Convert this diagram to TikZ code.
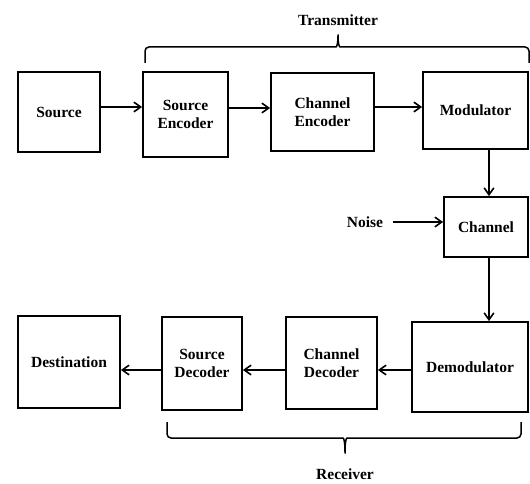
\documentclass[tikz,border=0pt]{standalone}
\usepackage{fontspec}
\setmainfont{Liberation Serif}
\usetikzlibrary{arrows.meta,positioning,calc}
\tikzset{
  block/.style={draw,line width=1.8pt,align=center,inner sep=2pt,
    font=\bfseries\fontsize{15.5}{17.5}\selectfont},
  arrow/.style={-{Straight Barb[length=2.4mm,width=3.4mm]},line width=1.6pt},
  bracket/.style={line width=1.5pt,rounded corners=4pt},
  labelstyle/.style={font=\bfseries\fontsize{15.5}{17.5}\selectfont,inner sep=1pt}
}
\begin{document}
\begin{tikzpicture}[x=1pt,y=-1pt]
  \useasboundingbox (0,0) rectangle (530,484);
  % transmitter chain
  \node[block,minimum width=82,minimum height=80] (src) at (59,112) {Source};
  \node[block,minimum width=85,minimum height=85] (senc) at (185.5,114.5) {Source\\Encoder};
  \node[block,minimum width=103,minimum height=78] (cenc) at (322.5,112) {Channel\\Encoder};
  \node[block,minimum width=105,minimum height=77] (mod) at (475.5,110.5) {Modulator};
  \node[block,minimum width=84,minimum height=60] (chan) at (486,227) {Channel};
  \node[labelstyle] (noise) at (365,222) {Noise};
  % receiver chain
  \node[block,minimum width=116,minimum height=90] (demod) at (470,367) {Demodulator};
  \node[block,minimum width=91,minimum height=92] (cdec) at (331.5,363) {Channel\\Decoder};
  \node[block,minimum width=80,minimum height=93] (sdec) at (202,363.5) {Source\\Decoder};
  \node[block,minimum width=102,minimum height=92] (dst) at (69,362) {Destination};
  % connectors
  \draw[arrow] ([yshift=5pt]src.east) -- ([yshift=5pt]src.east -| senc.west);
  \draw[arrow] ([yshift=6.5pt]senc.east) -- ([yshift=6.5pt]senc.east -| cenc.west);
  \draw[arrow] ([yshift=5pt]cenc.east) -- ([yshift=5pt]cenc.east -| mod.west);
  \draw[arrow] ([xshift=3pt]mod.south -| chan.north) -- ([xshift=3pt]chan.north);
  \draw[arrow] ([xshift=9pt]noise.east) -- (noise.east -| chan.west);
  \draw[arrow] ([xshift=3pt]chan.south) -- ([xshift=3pt]chan.south |- demod.north);
  \draw[arrow] ([yshift=-3pt]demod.west) -- ([yshift=-3pt]demod.west -| cdec.east);
  \draw[arrow] ([yshift=-7pt]cdec.west) -- ([yshift=-7pt]cdec.west -| sdec.east);
  \draw[arrow] ([yshift=-6.5pt]sdec.west) -- ([yshift=-6.5pt]sdec.west -| dst.east);
  % brackets
  \draw[bracket] (145,63) |- (332,47) .. controls (337,47) and (338,42) .. (338,32)
    .. controls (338,42) and (339,47) .. (344,47) -| (529,63);
  \node[labelstyle] (tx) at (338,20) {Transmitter};
  \draw[bracket] (167,422) |- (339,438) .. controls (344,438) and (345,443) .. (345,456)
    .. controls (345,443) and (346,438) .. (351,438) -| (521,422);
  \node[labelstyle] (rx) at (345,474) {Receiver};
\end{tikzpicture}
\end{document}
